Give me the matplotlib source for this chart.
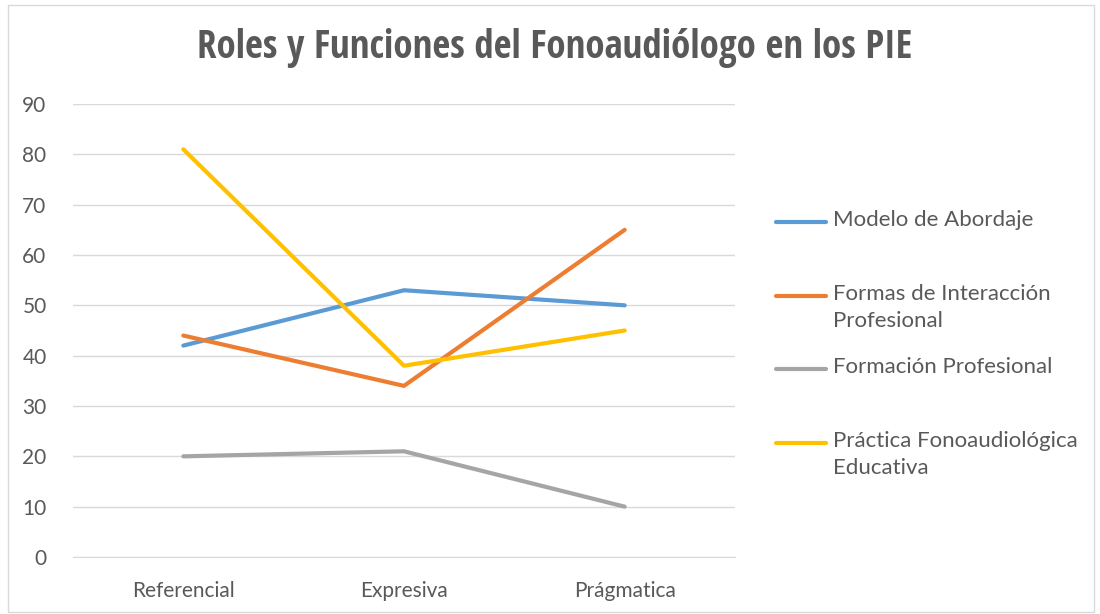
import matplotlib
matplotlib.use('Agg')
import matplotlib.pyplot as plt
from matplotlib.lines import Line2D
from matplotlib.patches import Rectangle

categories = ["Referencial", "Expresiva", "Prágmatica"]
series_names = ["Modelo de Abordaje", "Formas de Interacción\nProfesional",
                "Formación Profesional", "Práctica Fonoaudiológica\nEducativa"]
modelo = [42, 53, 50]
formas = [44, 34, 65]
formacion = [20, 21, 10]
practica = [81, 38, 45]
colors = ["#5B9BD5", "#ED7D31", "#A5A5A5", "#FFC000"]

W, H = 1100, 614
plt.rcParams['font.family'] = ['Lato', 'DejaVu Sans']

fig = plt.figure(figsize=(W / 100, H / 100), dpi=100)
ax = fig.add_axes([73 / W, 1 - 557 / H, (735 - 73) / W, (557 - 104) / H])

x = list(range(len(categories)))
for vals, c in zip([modelo, formas, formacion, practica], colors):
    ax.plot(x, vals, color=c, linewidth=3, solid_capstyle='round', zorder=3)

ax.set_xlim(-0.5, len(categories) - 0.5)
ax.set_ylim(0, 90)
ax.set_yticks(range(0, 91, 10))
ax.set_xticks(x)
ax.set_xticklabels(categories)
ax.grid(axis='y', color='#D9D9D9', linewidth=1)
ax.tick_params(length=0, labelsize=15, colors='#595959')
ax.tick_params(axis='y', pad=19)
ax.tick_params(axis='x', pad=17)
for s in ax.spines.values():
    s.set_visible(False)
ax.spines['bottom'].set_visible(True)
ax.spines['bottom'].set_color('#D9D9D9')

fig.text(555 / W, 1 - 48 / H, "Roles y Funciones del Fonoaudiólogo en los PIE",
         ha='center', va='center', fontsize=28, fontweight='bold', color='#595959',
         family=['Open Sans Condensed', 'Liberation Sans Narrow', 'Open Sans'])

# legend drawn by hand to mimic the spread-out spacing
leg_y = [222, 296, 369, 443]
for name, c, yy in zip(series_names, colors, leg_y):
    fy = 1 - yy / H
    fig.add_artist(Line2D([776 / W, 826 / W], [fy, fy], color=c, linewidth=3,
                          solid_capstyle='round', transform=fig.transFigure))
    fig.text(833 / W, 1 - (yy - 12) / H, name, ha='left', va='top', fontsize=16,
             color='#595959', linespacing=1.45, transform=fig.transFigure)

fig.add_artist(Rectangle((8 / W, 1 - 612 / H), (1094 - 8) / W, (612 - 5) / H,
                         fill=False, edgecolor='#D9D9D9', linewidth=1,
                         transform=fig.transFigure))

fig.savefig("out.png", dpi=100)
